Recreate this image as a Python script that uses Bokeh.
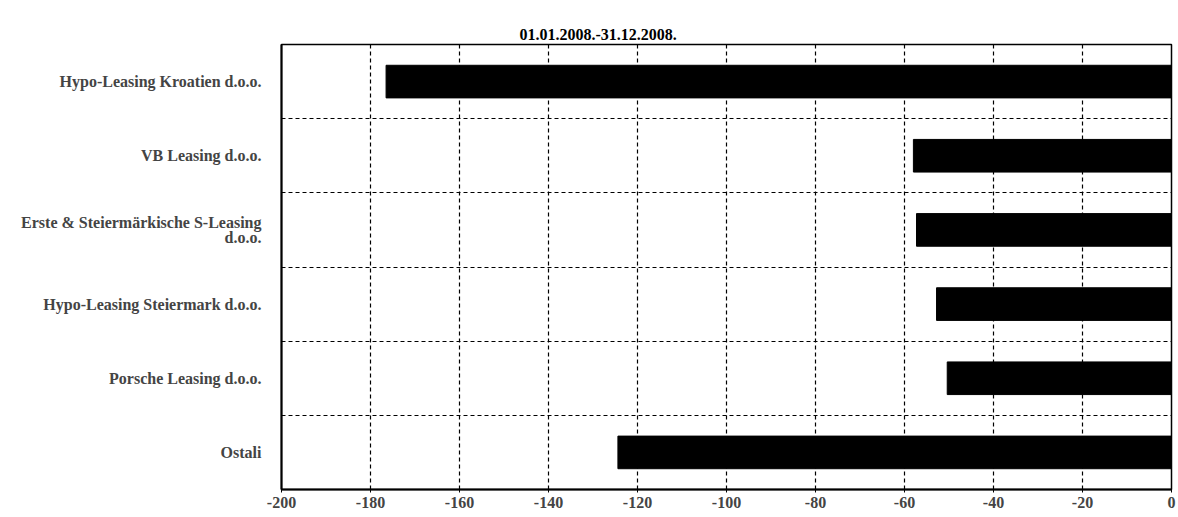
from bokeh.plotting import figure
from bokeh.models import Range1d, FixedTicker, Title
from bokeh.embed import file_html
from bokeh.resources import INLINE

title_text = "01.01.2008.-31.12.2008."
categories = [
    "Hypo-Leasing Kroatien d.o.o.",
    "VB Leasing d.o.o.",
    "Erste & Steiermärkische S-Leasing\nd.o.o.",
    "Hypo-Leasing Steiermark d.o.o.",
    "Porsche Leasing d.o.o.",
    "Ostali",
]
values = [-176.5, -58.0, -57.3, -52.8, -50.4, -124.4]
x_ticks = [-200, -180, -160, -140, -120, -100, -80, -60, -40, -20, 0]

n = len(categories)
# top-to-bottom order: first category at top
ypos = [n - 1 - i + 0.5 for i in range(n)]

FONT = "Liberation Serif"

p = figure(width=1176, height=510, output_backend="svg", toolbar_location=None,
           x_range=Range1d(-200, 0), y_range=Range1d(0, n),
           min_border_left=281, min_border_right=5, min_border_top=44, min_border_bottom=20)
p.title = None
t = Title(text=title_text, align="left", offset=238, standoff=10, text_line_height=2.4,
          text_font=FONT, text_font_size="16px", text_font_style="bold", text_color="black")
p.add_layout(t, "above")

p.hbar(y=ypos, right=values, left=0, height=0.44, color="black")

# axes
p.xaxis.ticker = FixedTicker(ticks=x_ticks)
p.xaxis.major_label_overrides = {v: str(v) for v in x_ticks}
p.xaxis.major_label_text_font = FONT
p.xaxis.major_label_text_font_size = "16px"
p.xaxis.major_label_text_font_style = "bold"
p.xaxis.major_label_standoff = 4
p.xaxis.major_tick_in = 2
p.xaxis.major_tick_out = 3
p.xaxis.minor_tick_line_color = None
p.xaxis.axis_line_width = 2
p.xaxis.major_tick_line_color = "black"
p.xaxis.axis_line_color = "black"

p.yaxis.ticker = FixedTicker(ticks=ypos)
p.yaxis.major_label_overrides = {y: c for y, c in zip(ypos, categories)}
p.yaxis.major_label_text_font = FONT
p.yaxis.major_label_text_font_size = "16px"
p.yaxis.major_label_text_font_style = "bold"
p.yaxis.major_label_text_line_height = 0.85
p.yaxis.major_label_standoff = 14
p.yaxis.major_tick_line_color = None
p.yaxis.minor_tick_line_color = None
p.yaxis.axis_line_width = 2
p.yaxis.axis_line_color = "black"

# grids
p.xgrid.ticker = FixedTicker(ticks=x_ticks)
p.xgrid.grid_line_color = "black"
p.xgrid.grid_line_dash = "4 3"
p.xgrid.grid_line_width = 1.2
p.ygrid.ticker = FixedTicker(ticks=list(range(1, n)))
p.ygrid.grid_line_color = "black"
p.ygrid.grid_line_dash = "4 3"
p.ygrid.grid_line_width = 1.2

p.outline_line_color = "black"
p.outline_line_width = 1.5
p.outline_line_alpha = 1.0

open("out.html", "w").write(file_html(p, INLINE))
